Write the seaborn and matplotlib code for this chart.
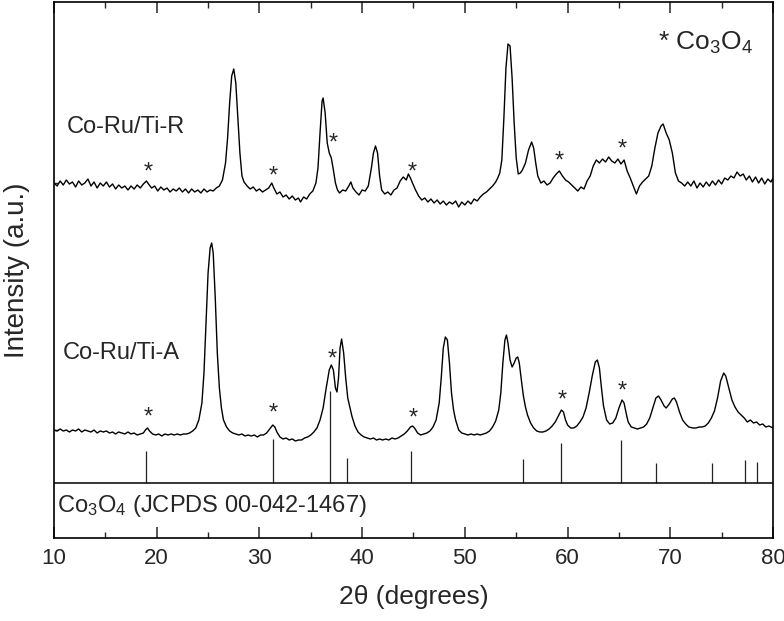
import numpy as np
import pandas as pd
import matplotlib
matplotlib.use("Agg")
import matplotlib.pyplot as plt
from matplotlib.ticker import MultipleLocator
import seaborn as sns

# ---------------- data ----------------
r_angle = [10.0, 10.3, 10.6, 10.9, 11.2, 11.5, 11.8, 12.1, 12.4, 12.7, 13.0, 13.3, 13.6, 13.9, 14.2, 14.5,
           14.8, 15.1, 15.4, 15.7, 16.0, 16.3, 16.6, 16.9, 17.2, 17.5, 17.8, 18.1, 18.4, 18.7, 19.0, 19.2,
           19.5, 19.8, 20.1, 20.4, 20.7, 21.0, 21.3, 21.6, 21.9, 22.2, 22.5, 22.8, 23.1, 23.4, 23.7, 24.0,
           24.3, 24.6, 24.9, 25.2, 25.5, 25.8, 26.1, 26.4, 26.7, 26.9, 27.1, 27.3, 27.5, 27.7, 27.9, 28.1,
           28.3, 28.5, 28.8, 29.1, 29.4, 29.7, 30.0, 30.3, 30.6, 30.9, 31.2, 31.4, 31.7, 32.0, 32.3, 32.6,
           32.9, 33.2, 33.5, 33.8, 34.0, 34.3, 34.6, 34.9, 35.2, 35.5, 35.7, 35.9, 36.1, 36.2, 36.4, 36.6,
           36.8, 37.0, 37.2, 37.4, 37.6, 37.8, 38.1, 38.4, 38.7, 38.9, 39.1, 39.4, 39.7, 40.0, 40.3, 40.6,
           40.9, 41.1, 41.3, 41.5, 41.7, 41.9, 42.2, 42.5, 42.8, 43.1, 43.4, 43.7, 44.0, 44.3, 44.5, 44.7,
           44.9, 45.2, 45.5, 45.8, 46.1, 46.4, 46.7, 47.0, 47.3, 47.6, 47.9, 48.2, 48.5, 48.8, 49.1, 49.4,
           49.7, 50.0, 50.3, 50.6, 50.9, 51.2, 51.5, 51.8, 52.1, 52.4, 52.7, 53.0, 53.2, 53.4, 53.6, 53.8,
           54.0, 54.2, 54.4, 54.6, 54.8, 55.0, 55.2, 55.4, 55.6, 55.9, 56.2, 56.5, 56.7, 56.9, 57.1, 57.4,
           57.7, 58.0, 58.3, 58.6, 58.9, 59.2, 59.5, 59.8, 60.1, 60.4, 60.7, 61.0, 61.3, 61.6, 61.9, 62.2,
           62.5, 62.8, 63.1, 63.4, 63.7, 64.0, 64.3, 64.6, 64.9, 65.2, 65.5, 65.8, 66.1, 66.4, 66.7, 67.0,
           67.3, 67.6, 67.9, 68.2, 68.5, 68.8, 69.1, 69.3, 69.6, 69.9, 70.2, 70.5, 70.8, 71.1, 71.4, 71.7,
           72.0, 72.3, 72.6, 72.9, 73.2, 73.5, 73.8, 74.1, 74.4, 74.7, 75.0, 75.3, 75.6, 75.9, 76.2, 76.5,
           76.8, 77.1, 77.4, 77.7, 78.0, 78.3, 78.6, 78.9, 79.2, 79.5, 79.8, 80.0]
r_intensity = [355, 352, 357, 353, 358, 354, 356, 351, 357, 353, 355, 359, 352, 356, 350, 355,
               352, 356, 351, 354, 349, 353, 350, 352, 348, 352, 349, 353, 350, 354, 357, 354,
               350, 352, 347, 351, 348, 350, 346, 349, 347, 350, 346, 349, 345, 349, 346, 348,
               345, 349, 346, 348, 347, 350, 352, 358, 375, 400, 435, 462, 469, 455, 420, 385,
               362, 356, 352, 349, 351, 347, 349, 346, 348, 350, 355, 350, 344, 346, 341, 343,
               339, 342, 338, 340, 336, 341, 339, 344, 347, 355, 370, 405, 437, 440, 425, 395,
               385, 380, 368, 355, 348, 345, 348, 347, 352, 356, 350, 346, 343, 348, 347, 352,
               370, 385, 392, 385, 362, 348, 344, 346, 343, 348, 350, 357, 361, 358, 364, 360,
               355, 348, 342, 338, 340, 336, 339, 335, 338, 334, 337, 333, 336, 334, 337, 331,
               336, 333, 337, 334, 339, 337, 341, 344, 346, 349, 352, 356, 360, 365, 378, 420,
               470, 494, 492, 460, 415, 380, 364, 365, 368, 375, 388, 396, 390, 375, 362, 355,
               357, 353, 355, 360, 364, 367, 362, 358, 356, 353, 350, 347, 351, 349, 357, 362,
               372, 378, 375, 379, 376, 381, 377, 375, 379, 374, 378, 367, 360, 352, 344, 352,
               356, 359, 362, 372, 390, 405, 412, 414, 405, 398, 385, 365, 357, 355, 352, 356,
               352, 357, 350, 355, 351, 356, 352, 357, 353, 358, 354, 360, 358, 362, 360, 366,
               362, 364, 358, 362, 356, 361, 355, 360, 354, 359, 356, 360]

a_angle = [10.0, 10.3, 10.6, 10.9, 11.2, 11.5, 11.8, 12.1, 12.4, 12.7, 13.0, 13.3, 13.6, 13.9, 14.2, 14.5,
           14.8, 15.1, 15.4, 15.7, 16.0, 16.3, 16.6, 16.9, 17.2, 17.5, 17.8, 18.1, 18.4, 18.7, 18.9, 19.1,
           19.3, 19.6, 19.9, 20.2, 20.5, 20.8, 21.1, 21.4, 21.7, 22.0, 22.3, 22.6, 22.9, 23.2, 23.5, 23.8,
           24.1, 24.4, 24.6, 24.8, 25.0, 25.2, 25.35, 25.5, 25.7, 25.9, 26.1, 26.3, 26.5, 26.8, 27.1, 27.4,
           27.7, 28.0, 28.3, 28.6, 28.9, 29.2, 29.5, 29.8, 30.1, 30.4, 30.7, 31.0, 31.3, 31.5, 31.7, 32.0,
           32.3, 32.6, 32.9, 33.2, 33.5, 33.8, 34.1, 34.4, 34.7, 35.0, 35.3, 35.6, 35.9, 36.2, 36.5, 36.8,
           37.0, 37.2, 37.4, 37.55, 37.7, 37.85, 38.0, 38.2, 38.4, 38.6, 38.8, 39.0, 39.3, 39.6, 39.9, 40.2,
           40.5, 40.8, 41.1, 41.4, 41.7, 42.0, 42.3, 42.6, 42.9, 43.2, 43.5, 43.8, 44.1, 44.4, 44.7, 44.9,
           45.1, 45.4, 45.7, 46.0, 46.3, 46.6, 46.9, 47.2, 47.5, 47.7, 47.9, 48.1, 48.3, 48.5, 48.7, 48.9,
           49.1, 49.4, 49.7, 50.0, 50.3, 50.6, 50.9, 51.2, 51.5, 51.8, 52.1, 52.4, 52.7, 53.0, 53.3, 53.5,
           53.7, 53.9, 54.05, 54.2, 54.4, 54.6, 54.8, 55.0, 55.15, 55.3, 55.5, 55.7, 55.9, 56.1, 56.4, 56.7,
           57.0, 57.3, 57.6, 57.9, 58.2, 58.5, 58.8, 59.1, 59.4, 59.6, 59.8, 60.0, 60.3, 60.6, 60.9, 61.2,
           61.5, 61.8, 62.1, 62.4, 62.7, 62.9, 63.1, 63.3, 63.5, 63.8, 64.1, 64.4, 64.7, 65.0, 65.3, 65.5,
           65.7, 65.9, 66.2, 66.5, 66.8, 67.1, 67.4, 67.7, 68.0, 68.3, 68.6, 68.85, 69.1, 69.4, 69.6, 69.9,
           70.2, 70.4, 70.6, 70.9, 71.2, 71.5, 71.8, 72.2, 72.5, 72.8, 73.1, 73.4, 73.7, 74.0, 74.3, 74.6,
           74.9, 75.2, 75.4, 75.7, 76.0, 76.3, 76.6, 76.9, 77.2, 77.5, 77.8, 78.1, 78.4, 78.7, 79.0, 79.3,
           79.6, 80.0]
a_intensity = [108, 107, 109, 107, 108, 106, 108, 107, 109, 106, 108, 107, 106, 108, 105, 107,
               106, 107, 105, 106, 104, 106, 105, 104, 106, 104, 105, 103, 104, 105, 108, 110,
               107, 104, 103, 104, 102, 104, 103, 104, 103, 104, 103, 104, 104, 105, 107, 110,
               118, 135, 165, 215, 265, 290, 295, 285, 240, 185, 150, 130, 118, 111, 107, 105,
               104, 103, 104, 102, 103, 102, 103, 101, 103, 103, 105, 109, 113, 111, 106, 101,
               99, 100, 98, 99, 97, 98, 98, 100, 101, 103, 106, 110, 118, 130, 150, 168,
               173, 168, 150, 146, 160, 190, 199, 185, 160, 140, 131, 122, 112, 106, 103, 101,
               100, 99, 100, 98, 99, 98, 99, 98, 100, 99, 100, 102, 104, 107, 111, 112,
               110, 105, 103, 104, 105, 107, 111, 118, 135, 160, 190, 201, 198, 175, 145, 128,
               118, 108, 105, 104, 103, 104, 103, 104, 103, 104, 105, 107, 111, 117, 128, 145,
               175, 198, 203, 195, 178, 171, 175, 180, 181, 175, 158, 142, 131, 123, 115, 110,
               107, 106, 106, 107, 109, 112, 116, 122, 128, 126, 118, 113, 110, 110, 112, 116,
               121, 130, 145, 162, 176, 178, 170, 150, 132, 118, 114, 115, 120, 130, 138, 135,
               125, 116, 111, 110, 109, 110, 111, 114, 120, 130, 140, 142, 138, 132, 130, 134,
               139, 140, 136, 126, 118, 114, 111, 110, 110, 111, 111, 112, 115, 120, 127, 140,
               157, 165, 162, 150, 138, 131, 126, 123, 120, 116, 118, 115, 116, 113, 114, 111,
               112, 110]

ref_angle = [19.0, 31.3, 36.85, 38.55, 44.8, 55.65, 59.35, 65.25, 68.6, 74.1, 77.3, 78.4]
ref_height = [32, 44, 92, 25, 32, 24, 40, 43, 20, 20, 23, 21]

r_star_angle = [19.15, 31.3, 37.15, 44.85, 59.2, 65.3]
r_star_int = [365, 361, 394, 365, 376, 388]
a_star_angle = [19.15, 31.35, 37.05, 44.95, 59.45, 65.3]
a_star_int = [120, 124, 178, 119, 137, 146]

sample_labels = ["Co-Ru/Ti-R", "Co-Ru/Ti-A"]
xticks = [10, 20, 30, 40, 50, 60, 70, 80]

# ---------------- styling ----------------
sns.set_style("ticks")
plt.rcParams["font.family"] = ["Liberation Sans", "DejaVu Sans"]
plt.rcParams["mathtext.fontset"] = "custom"
plt.rcParams["mathtext.rm"] = "Liberation Sans"
plt.rcParams["mathtext.it"] = "Liberation Sans:italic"
plt.rcParams["mathtext.bf"] = "Liberation Sans:bold"

fig = plt.figure(figsize=(7.84, 6.21), dpi=100)
ax = fig.add_axes([54 / 784, (621 - 538) / 621, (773 - 54) / 784, (538 - 2) / 621])

df = pd.concat([
    pd.DataFrame({"angle": r_angle, "intensity": r_intensity, "sample": sample_labels[0]}),
    pd.DataFrame({"angle": a_angle, "intensity": a_intensity, "sample": sample_labels[1]}),
])
sns.lineplot(data=df, x="angle", y="intensity", units="sample", estimator=None, sort=False,
             color="black", linewidth=1.0, ax=ax, legend=False)

base = 55
ax.vlines(ref_angle, base, [base + h for h in ref_height], color="#222222", linewidth=0.9)
ax.axhline(base, color="black", linewidth=1.1)

for xs, ys in ((r_star_angle, r_star_int), (a_star_angle, a_star_int)):
    for x, y in zip(xs, ys):
        ax.text(x, y, "*", ha="center", va="center", fontsize=17)

ax.text(11.25, 411, sample_labels[0], fontsize=17, va="center", ha="left")
ax.text(10.9, 185, sample_labels[1], fontsize=17, va="center", ha="left")
ax.text(68.8, 488, "* Co$_3$O$_4$", fontsize=19, va="baseline", ha="left")
ax.text(10.3, 26, "Co$_3$O$_4$ (JCPDS 00-042-1467)", fontsize=17, va="baseline", ha="left")

ax.set_xlim(10, 80)
ax.set_ylim(0, 536)
ax.set_xticks(xticks)
ax.set_xticklabels([str(t) for t in xticks])
ax.xaxis.set_minor_locator(MultipleLocator(5))
ax.set_yticks([108, 355])
ax.set_yticklabels([])
ax.tick_params(axis="x", which="major", direction="in", length=8, width=1.1, top=True,
               labelsize=16, pad=7)
ax.tick_params(axis="x", which="minor", direction="in", length=4.5, width=1.0, top=True)
ax.tick_params(axis="y", which="major", direction="in", length=3, width=1.0)
for s in ax.spines.values():
    s.set_linewidth(1.2)
    s.set_color("black")

ax.set_xlabel("2θ (degrees)", fontsize=19, labelpad=12)
ax.set_ylabel("Intensity (a.u.)", fontsize=20, labelpad=14)

fig.savefig("out.png", dpi=100)
